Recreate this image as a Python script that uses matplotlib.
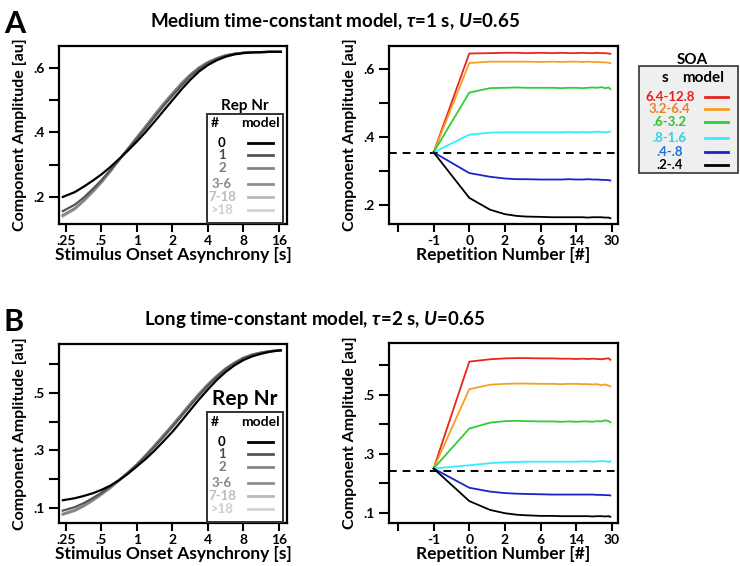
import numpy as np
import matplotlib
matplotlib.use("Agg")
import matplotlib.pyplot as plt
from matplotlib.lines import Line2D
from matplotlib.patches import Rectangle

plt.rcParams['font.family'] = ['Lato', 'DejaVu Sans']
plt.rcParams['font.weight'] = 'bold'
plt.rcParams['mathtext.fontset'] = 'custom'
plt.rcParams['mathtext.rm'] = 'Lato:bold'
plt.rcParams['mathtext.it'] = 'Lato:bold:italic'
plt.rcParams['mathtext.bf'] = 'Lato:bold'

# ---- left panels: amplitude vs SOA, one curve per repetition group
soa = [0.235, 0.297, 0.354, 0.42, 0.5, 0.595, 0.707, 0.84, 1.0, 1.19, 1.414, 1.68, 2.0,
       2.38, 2.83, 3.36, 4.0, 4.76, 5.66, 6.73, 8.0, 9.51, 11.3, 13.5, 16.6]
rep_labels = ['0', '1', '2', '3-6', '7-18', '>18']
rep_colors = ['#000000', '#555555', '#858585', '#8f8f8f', '#b8b8b8', '#d4d4d4']
rep_text_colors = ['#000000', '#4a4a4a', '#7a7a7a', '#8a8a8a', '#bdbdbd', '#cfcfcf']

amp_a = [
    [0.200, 0.215, 0.232, 0.250, 0.270, 0.293, 0.318, 0.344, 0.372, 0.402, 0.434, 0.467, 0.500,
     0.533, 0.563, 0.589, 0.609, 0.624, 0.635, 0.642, 0.646, 0.648, 0.649, 0.650, 0.650],
    [0.156, 0.176, 0.198, 0.224, 0.252, 0.284, 0.316, 0.348, 0.381, 0.414, 0.448, 0.482, 0.514,
     0.545, 0.574, 0.597, 0.615, 0.628, 0.638, 0.644, 0.647, 0.649, 0.649, 0.650, 0.650],
    [0.144, 0.165, 0.189, 0.216, 0.246, 0.280, 0.315, 0.350, 0.385, 0.420, 0.455, 0.489, 0.521,
     0.552, 0.579, 0.601, 0.618, 0.630, 0.639, 0.644, 0.647, 0.649, 0.649, 0.650, 0.650],
    [0.142, 0.163, 0.188, 0.215, 0.245, 0.279, 0.315, 0.350, 0.385, 0.420, 0.455, 0.489, 0.521,
     0.552, 0.579, 0.601, 0.618, 0.630, 0.639, 0.644, 0.647, 0.649, 0.649, 0.650, 0.650],
    [0.140, 0.162, 0.187, 0.215, 0.245, 0.279, 0.315, 0.350, 0.385, 0.420, 0.455, 0.489, 0.521,
     0.552, 0.579, 0.601, 0.618, 0.630, 0.639, 0.644, 0.647, 0.649, 0.649, 0.650, 0.650],
    [0.139, 0.161, 0.187, 0.215, 0.245, 0.279, 0.315, 0.350, 0.385, 0.420, 0.455, 0.489, 0.521,
     0.552, 0.579, 0.601, 0.618, 0.630, 0.639, 0.644, 0.647, 0.649, 0.649, 0.650, 0.650],
]
amp_b = [
    [0.127, 0.134, 0.142, 0.151, 0.163, 0.178, 0.197, 0.219, 0.245, 0.271, 0.300, 0.332, 0.365,
     0.402, 0.440, 0.477, 0.512, 0.545, 0.573, 0.596, 0.614, 0.627, 0.636, 0.643, 0.648],
    [0.091, 0.103, 0.117, 0.134, 0.153, 0.175, 0.198, 0.223, 0.250, 0.281, 0.313, 0.347, 0.382,
     0.419, 0.456, 0.491, 0.525, 0.555, 0.582, 0.603, 0.620, 0.632, 0.639, 0.645, 0.648],
    [0.080, 0.093, 0.108, 0.127, 0.148, 0.171, 0.196, 0.223, 0.252, 0.284, 0.318, 0.353, 0.388,
     0.425, 0.462, 0.497, 0.530, 0.559, 0.585, 0.605, 0.622, 0.633, 0.640, 0.645, 0.648],
    [0.078, 0.091, 0.107, 0.126, 0.147, 0.170, 0.196, 0.223, 0.252, 0.284, 0.318, 0.353, 0.388,
     0.425, 0.462, 0.497, 0.530, 0.559, 0.585, 0.605, 0.622, 0.633, 0.640, 0.645, 0.648],
    [0.077, 0.090, 0.106, 0.125, 0.147, 0.170, 0.196, 0.223, 0.252, 0.284, 0.318, 0.353, 0.388,
     0.425, 0.462, 0.497, 0.530, 0.559, 0.585, 0.605, 0.622, 0.633, 0.640, 0.645, 0.648],
    [0.076, 0.090, 0.106, 0.125, 0.147, 0.170, 0.196, 0.223, 0.252, 0.284, 0.318, 0.353, 0.388,
     0.425, 0.462, 0.497, 0.530, 0.559, 0.585, 0.605, 0.622, 0.633, 0.640, 0.645, 0.648],
]

# ---- right panels: amplitude vs repetition number, one curve per SOA range
reps = [-1, 0, 1, 2, 3, 4, 6, 8, 10, 12, 14, 16, 18, 20, 22, 24, 26, 28, 29]
soa_labels = ['6.4-12.8', '3.2-6.4', '.6-3.2', '.8-1.6', '.4-.8', '.2-.4']
soa_colors = ['#e8241c', '#f5a023', '#33cc33', '#33eeff', '#1a22cc', '#000000']
soa_text_colors = ['#e8201a', '#f07d20', '#2ec22e', '#33d0e0', '#2070e0', '#000000']

rep_a = [
    [0.355, 0.646, 0.647, 0.648, 0.648, 0.647, 0.648, 0.647, 0.648, 0.647, 0.647, 0.648, 0.647, 0.647, 0.648, 0.647, 0.647, 0.646, 0.645],
    [0.355, 0.618, 0.622, 0.622, 0.622, 0.622, 0.621, 0.622, 0.621, 0.622, 0.622, 0.621, 0.622, 0.621, 0.621, 0.620, 0.620, 0.619, 0.617],
    [0.355, 0.531, 0.544, 0.545, 0.546, 0.545, 0.545, 0.545, 0.544, 0.545, 0.545, 0.544, 0.545, 0.546, 0.545, 0.547, 0.544, 0.546, 0.541],
    [0.355, 0.407, 0.413, 0.414, 0.414, 0.414, 0.414, 0.414, 0.414, 0.415, 0.414, 0.415, 0.414, 0.415, 0.416, 0.415, 0.414, 0.415, 0.416],
    [0.355, 0.294, 0.283, 0.278, 0.276, 0.276, 0.275, 0.275, 0.275, 0.276, 0.275, 0.275, 0.276, 0.275, 0.275, 0.274, 0.274, 0.273, 0.272],
    [0.355, 0.221, 0.186, 0.173, 0.168, 0.166, 0.165, 0.164, 0.164, 0.164, 0.164, 0.164, 0.163, 0.164, 0.164, 0.164, 0.163, 0.163, 0.161],
]
rep_b = [
    [0.250, 0.611, 0.619, 0.622, 0.623, 0.623, 0.622, 0.622, 0.621, 0.621, 0.620, 0.621, 0.620, 0.621, 0.620, 0.619, 0.621, 0.622, 0.617],
    [0.250, 0.518, 0.533, 0.536, 0.537, 0.537, 0.536, 0.536, 0.535, 0.536, 0.536, 0.535, 0.535, 0.534, 0.535, 0.531, 0.534, 0.530, 0.527],
    [0.250, 0.385, 0.405, 0.410, 0.411, 0.410, 0.409, 0.409, 0.408, 0.409, 0.408, 0.409, 0.409, 0.408, 0.410, 0.409, 0.413, 0.410, 0.406],
    [0.250, 0.261, 0.268, 0.271, 0.272, 0.273, 0.273, 0.273, 0.273, 0.273, 0.273, 0.274, 0.274, 0.273, 0.274, 0.275, 0.275, 0.272, 0.275],
    [0.250, 0.185, 0.172, 0.167, 0.165, 0.164, 0.163, 0.162, 0.162, 0.162, 0.162, 0.162, 0.162, 0.162, 0.161, 0.161, 0.160, 0.160, 0.159],
    [0.250, 0.140, 0.110, 0.099, 0.094, 0.092, 0.090, 0.090, 0.089, 0.089, 0.089, 0.089, 0.089, 0.088, 0.089, 0.089, 0.088, 0.089, 0.087],
]
baseline_a = 0.353
baseline_b = 0.242

soa_ticks = [0.25, 0.5, 1, 2, 4, 8, 16]
soa_ticklabels = ['.25', '.5', '1', '2', '4', '8', '16']
rep_ticks = [-1.5, -1, 0, 2, 6, 14, 30]
rep_ticklabels = ['', '-1', '0', '2', '6', '14', '30']


def style_axes(ax):
    for s in ax.spines.values():
        s.set_linewidth(1.6)
    ax.tick_params(axis='x', direction='out', length=6, width=1.5, labelsize=10, pad=2)
    ax.tick_params(axis='y', direction='out', length=7, width=1.5, labelsize=10, pad=3)
    for lab in ax.get_xticklabels() + ax.get_yticklabels():
        lab.set_fontweight('bold')


def set_yticks(ax, vals, labeled):
    ax.set_yticks(vals)
    ax.set_yticklabels([('%.1f' % v)[1:] if v in labeled else '' for v in vals])


def rep_legend(ax, title_size, title_y):
    ax.add_patch(Rectangle((0.649, 0.005), 0.333, 0.615, transform=ax.transAxes,
                           fill=False, lw=1.4, ec='#333333', zorder=5))
    ax.text(0.815, title_y, 'Rep Nr', transform=ax.transAxes, ha='center', va='center',
            fontsize=title_size, fontweight='bold')
    ax.text(0.665, 0.565, '#', transform=ax.transAxes, ha='left', va='center',
            fontsize=10, fontweight='bold')
    ax.text(0.885, 0.565, 'model', transform=ax.transAxes, ha='center', va='center',
            fontsize=10, fontweight='bold')
    ys = [0.455, 0.385, 0.315, 0.225, 0.150, 0.078]
    for lab, c, tc, y in zip(rep_labels, rep_colors, rep_text_colors, ys):
        ax.text(0.715, y, lab, transform=ax.transAxes, ha='center', va='center',
                fontsize=9.5, fontweight='bold', color=tc)
        ax.add_line(Line2D([0.829, 0.939], [y, y], transform=ax.transAxes,
                           color=c, lw=2))


def soa_panel(ax, data, ylim):
    ax.set_xscale('function', functions=(lambda x: np.log2(np.maximum(x + 2, 1e-6)),
                                         lambda u: 2.0 ** u - 2))
    for vals, c in zip(data, soa_colors):
        ax.plot(reps, vals, color=c, lw=1.3)
    ax.set_xlim(2 ** -1.25 - 2, 2 ** 5.17 - 2)
    ax.set_ylim(*ylim)
    ax.set_xticks(rep_ticks)
    ax.set_xticklabels(rep_ticklabels)
    ax.set_xlabel('Repetition Number [#]', fontsize=12.5, fontweight='bold', labelpad=0)
    ax.set_ylabel('Component Amplitude [au]', fontsize=11.5, fontweight='bold', labelpad=5)


def amp_panel(ax, data, ylim):
    ax.set_xscale('log', base=2)
    for vals, c in reversed(list(zip(data, rep_colors))):
        ax.plot(soa, vals, color=c, lw=1.6)
    ax.set_xlim(0.218, 18.7)
    ax.set_ylim(*ylim)
    ax.set_xticks(soa_ticks)
    ax.set_xticklabels(soa_ticklabels)
    ax.minorticks_off()
    ax.set_xlabel('Stimulus Onset Asynchrony [s]', fontsize=12.5, fontweight='bold', labelpad=0)
    ax.set_ylabel('Component Amplitude [au]', fontsize=11.5, fontweight='bold', labelpad=5)


fig = plt.figure(figsize=(7.4, 5.66), dpi=100)
ax_a1 = fig.add_axes([0.0797, 0.6042, 0.308, 0.3145])
ax_a2 = fig.add_axes([0.5257, 0.6042, 0.3095, 0.3145])
ax_b1 = fig.add_axes([0.0797, 0.0760, 0.308, 0.3163])
ax_b2 = fig.add_axes([0.5257, 0.0760, 0.3095, 0.3180])

amp_panel(ax_a1, amp_a, (0.116, 0.668))
set_yticks(ax_a1, [0.2, 0.3, 0.4, 0.5, 0.6], [0.2, 0.4, 0.6])
rep_legend(ax_a1, 11, 0.665)

amp_panel(ax_b1, amp_b, (0.048, 0.670))
set_yticks(ax_b1, [0.1, 0.2, 0.3, 0.4, 0.5, 0.6], [0.1, 0.3, 0.5])
rep_legend(ax_b1, 15, 0.69)

soa_panel(ax_a2, rep_a, (0.144, 0.668))
ax_a2.axhline(baseline_a, color='black', lw=1.4, ls=(0, (4, 3)), zorder=1)
set_yticks(ax_a2, [0.2, 0.3, 0.4, 0.5, 0.6], [0.2, 0.4, 0.6])

soa_panel(ax_b2, rep_b, (0.066, 0.674))
ax_b2.axhline(baseline_b, color='black', lw=1.4, ls=(0, (4, 3)), zorder=1)
set_yticks(ax_b2, [0.1, 0.2, 0.3, 0.4, 0.5, 0.6], [0.1, 0.3, 0.5])

for ax in (ax_a1, ax_a2, ax_b1, ax_b2):
    style_axes(ax)

# SOA legend, right of panel A
fig.text(0.935, 0.894, 'SOA', ha='center', va='center', fontsize=11, fontweight='bold')
fig.add_artist(Rectangle((0.8635, 0.694), 0.134, 0.189, transform=fig.transFigure,
                         fc='#efefef', ec='#333333', lw=1.2))
fig.text(0.899, 0.862, 's', ha='center', va='center', fontsize=11, fontweight='bold')
fig.text(0.950, 0.862, 'model', ha='center', va='center', fontsize=11, fontweight='bold')
soa_ys = [0.829, 0.807, 0.784, 0.756, 0.731, 0.708]
for lab, c, tc, y in zip(soa_labels, soa_colors, soa_text_colors, soa_ys):
    fig.text(0.905, y, lab, ha='center', va='center', fontsize=9.5, fontweight='bold', color=tc)
    fig.add_artist(Line2D([0.953, 0.984], [y, y], transform=fig.transFigure, color=c, lw=2))

# panel letters and titles
fig.text(0.005, 0.983, 'A', ha='left', va='top', fontsize=22, fontweight='bold')
fig.text(0.005, 0.455, 'B', ha='left', va='top', fontsize=22, fontweight='bold')
fig.text(0.453, 0.961, r'Medium time-constant model, $\tau$=1 s, $U$=0.65',
         ha='center', va='center', fontsize=13.5, fontweight='bold')
fig.text(0.425, 0.435, r'Long time-constant model, $\tau$=2 s, $U$=0.65',
         ha='center', va='center', fontsize=13.5, fontweight='bold')

fig.savefig('out.png', dpi=100)
